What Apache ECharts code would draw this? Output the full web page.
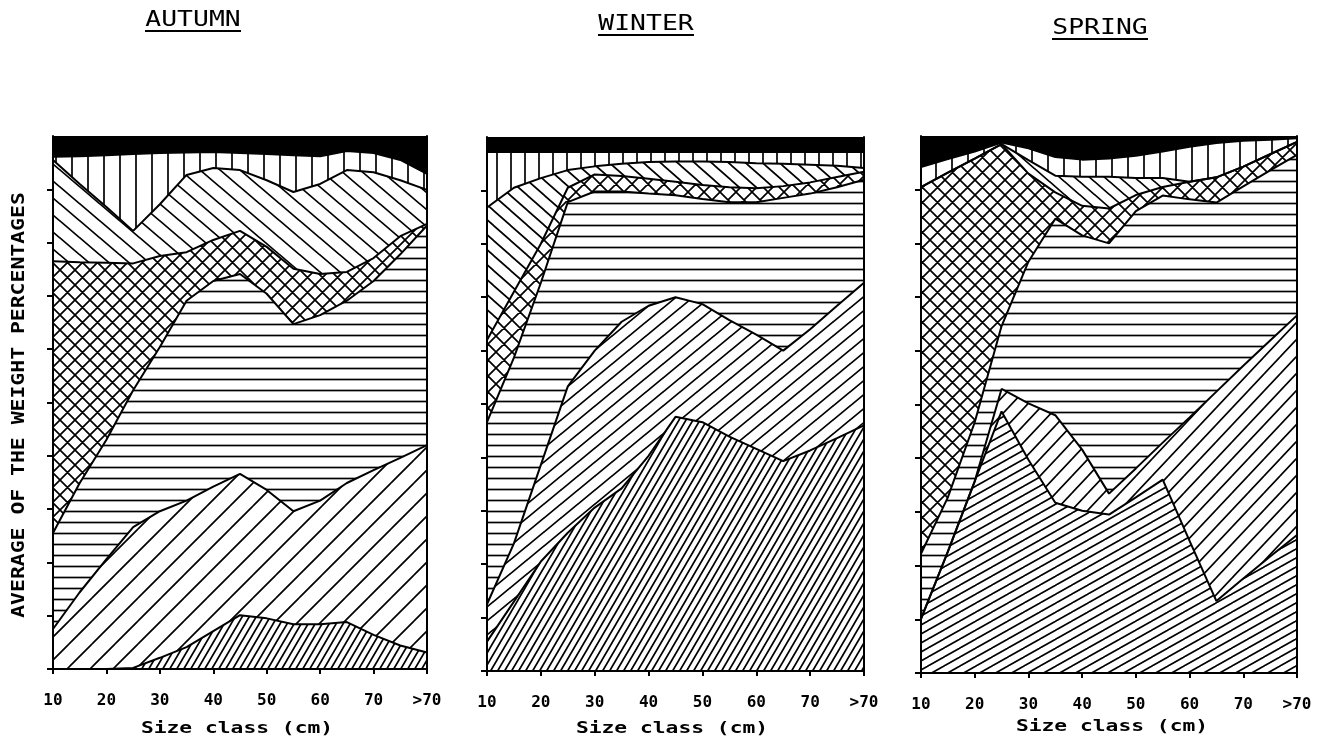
<!DOCTYPE html>
<html>
<head>
<meta charset="utf-8">
<script src="https://cdn.jsdelivr.net/npm/echarts@6/dist/echarts.min.js"></script>
<style>
html,body{margin:0;padding:0;background:#fff;}
#chart{width:1332px;height:742px;}
</style>
</head>
<body>
<div id="chart"></div>
<script>
// ---- DATA ----
// x positions (size class, cm); 80 stands for ">70"
const sizeClassCm = [10, 15, 20, 25, 30, 35, 40, 45, 50, 55, 60, 65, 70, 75, 80];
const xTickLabels = ['10', '20', '30', '40', '50', '60', '70', '>70'];
const seasonTitles = ['AUTUMN', 'WINTER', 'SPRING'];
const yAxisTitle = 'AVERAGE OF THE WEIGHT PERCENTAGES';
const xAxisTitle = 'Size class (cm)';

// cumulative weight percentage (from the bottom) up to the top of each prey category
// category 1 = bottom (dense hatch) ... category 7 = top (black)
const autumnCum1 = [0, 0, 0, 0.2, 2.1, 4.1, 7.1, 10.1, 9.5, 8.4, 8.4, 8.8, 6.4, 4.4, 3.1];
const autumnCum2 = [7.5, 14.4, 20.6, 26.6, 29.6, 31.6, 34.2, 36.6, 33.6, 29.6, 31.6, 34.9, 37.3, 39.6, 42];
const autumnCum3 = [25.5, 34.9, 43, 52.3, 60.4, 69.1, 72.8, 74.1, 70.4, 64.7, 66.4, 69.1, 72.8, 77.8, 83.2];
const autumnCum4 = [76.5, 76.3, 76.2, 76.1, 77.5, 78.2, 80.5, 82.2, 79.2, 75.1, 74.1, 74.5, 77.1, 81.2, 83.5];
const autumnCum5 = [95.5, 91, 86.7, 82.2, 87.2, 92.7, 94, 93.6, 91.7, 89.5, 91, 93.6, 93.2, 91.7, 89.9];
const autumnCum6 = [96.1, 96.2, 96.4, 96.6, 96.8, 96.9, 97, 96.8, 96.6, 96.4, 96.2, 97.2, 96.8, 95.5, 92.9];
const autumnCum7 = [100, 100, 100, 100, 100, 100, 100, 100, 100, 100, 100, 100, 100, 100, 100];

const winterCum1 = [5.5, 13, 20.5, 25.9, 30.6, 34.2, 40.3, 47.6, 46.6, 43.9, 41.6, 39.3, 41.3, 43.6, 46];
const winterCum2 = [12.5, 23.9, 38.6, 53.3, 60, 65.4, 68.4, 70, 68.7, 65.7, 63, 60, 64, 68.4, 72.7];
const winterCum3 = [46.6, 58.7, 72.7, 87.8, 89.8, 89.8, 89.4, 89.1, 88.4, 87.8, 87.8, 88.6, 89.4, 90.6, 92];
const winterCum4 = [62, 71, 80, 90.5, 93, 92.7, 92.2, 91.6, 91, 90.6, 90.4, 90.8, 91.5, 92.5, 93.5];
const winterCum5 = [86.8, 90.5, 92.3, 93.8, 94.5, 95, 95.3, 95.4, 95.4, 95.3, 95.1, 95, 94.8, 94.6, 94.2];
const winterCum6 = [97.2, 97.2, 97.2, 97.2, 97.2, 97.2, 97.2, 97.2, 97.2, 97.2, 97.2, 97.2, 97.2, 97.2, 97.2];
const winterCum7 = [100, 100, 100, 100, 100, 100, 100, 100, 100, 100, 100, 100, 100, 100, 100];

const springCum1 = [10.1, 22.6, 35.7, 48.7, 39.7, 31.7, 30.2, 29.5, 32.7, 36, 24.6, 13.4, 17.6, 21.7, 25.7];
const springCum2 = [10.1, 22.6, 35.7, 52.9, 50.2, 48, 41.6, 33.4, 38.1, 42.9, 47.6, 52.4, 57.2, 61.9, 66.6];
const springCum3 = [22.2, 32.7, 46.7, 64.6, 76.6, 84.6, 81.5, 80, 86, 88.9, 88.2, 87.6, 90.6, 93.6, 96.5];
const springCum4 = [90.5, 93.2, 95.8, 98.5, 93, 89.5, 87, 86.5, 89, 90.5, 91.5, 92.3, 94.3, 96.6, 98.9];
const springCum5 = [90.5, 93.2, 95.8, 98.5, 95.5, 92.6, 92.4, 92.4, 92.2, 92.2, 91.5, 92.3, 94.3, 96.6, 98.9];
const springCum6 = [94.2, 95.7, 97.1, 98.8, 97.7, 96.1, 95.6, 95.8, 96.3, 97.1, 98, 98.7, 99.1, 99.3, 99.6];
const springCum7 = [100, 100, 100, 100, 100, 100, 100, 100, 100, 100, 100, 100, 100, 100, 100];

// ---- hatch patterns ----
function tile(w, h, draw) {
  const c = document.createElement('canvas');
  c.width = w; c.height = h;
  const g = c.getContext('2d');
  g.fillStyle = '#fff'; g.fillRect(0, 0, w, h);
  g.strokeStyle = '#000'; g.lineWidth = 1.7; g.lineCap = 'square';
  draw(g, w, h);
  return { image: c, repeat: 'repeat' };
}
function slash(w, h) { // "/" lines
  return tile(w, h, (g) => {
    g.beginPath();
    for (let k = -1; k <= 1; k++) { g.moveTo(k * w, h); g.lineTo(k * w + w, 0); }
    g.stroke();
  });
}
function backslash(w, h) { // "\" lines
  return tile(w, h, (g) => {
    g.beginPath();
    for (let k = -1; k <= 1; k++) { g.moveTo(k * w, 0); g.lineTo(k * w + w, h); }
    g.stroke();
  });
}
function cross(s) {
  return tile(s, s, (g) => {
    g.beginPath();
    for (let k = -1; k <= 1; k++) {
      g.moveTo(k * s, s); g.lineTo(k * s + s, 0);
      g.moveTo(k * s, 0); g.lineTo(k * s + s, s);
    }
    g.stroke();
  });
}
function horiz(s) {
  return tile(8, s, (g, w, h) => { g.beginPath(); g.moveTo(-2, h / 2); g.lineTo(w + 2, h / 2); g.stroke(); });
}
function vert(s) {
  return tile(s, 8, (g, w, h) => { g.beginPath(); g.moveTo(w / 2, -2); g.lineTo(w / 2, h + 2); g.stroke(); });
}

const panels = [
  { cum: [autumnCum1, autumnCum2, autumnCum3, autumnCum4, autumnCum5, autumnCum6, autumnCum7],
    grid: { left: 53, top: 136, width: 374, height: 533 },
    fills: [slash(7, 12), slash(23, 23), horiz(11), cross(15), backslash(20, 17), vert(16), '#000'] },
  { cum: [winterCum1, winterCum2, winterCum3, winterCum4, winterCum5, winterCum6, winterCum7],
    grid: { left: 487, top: 137, width: 377, height: 534 },
    fills: [slash(7, 12), slash(17, 14), horiz(11), cross(16), backslash(17, 15), vert(14), '#000'] },
  { cum: [springCum1, springCum2, springCum3, springCum4, springCum5, springCum6, springCum7],
    grid: { left: 921, top: 136, width: 376, height: 537 },
    fills: [slash(16, 9), slash(16, 17), horiz(11), cross(15), backslash(15, 13), vert(16), '#000'] }
];

const grids = [], xAxes = [], yAxes = [], series = [];
panels.forEach((p, i) => {
  grids.push(Object.assign({ outerBoundsMode: 'none', containLabel: false }, p.grid));
  xAxes.push({
    gridIndex: i, type: 'value', min: 10, max: 80, interval: 10, z: 10,
    axisLine: { show: true, onZero: false, lineStyle: { color: '#000', width: 2 } },
    axisTick: { show: true, length: 5, lineStyle: { color: '#000', width: 2 } },
    axisLabel: { show: true, color: '#000', fontFamily: 'DejaVu Sans Mono', fontWeight: 'bold', fontSize: 16, margin: 24,
      formatter: (v) => xTickLabels[Math.round((v - 10) / 10)] },
    splitLine: { show: false }
  });
  yAxes.push({
    gridIndex: i, type: 'value', min: 0, max: 100, interval: 10, position: 'left', z: 10,
    axisLine: { show: true, onZero: false, lineStyle: { color: '#000', width: 2 } },
    axisTick: { show: true, length: 6, lineStyle: { color: '#000', width: 2 }, customValues: [0, 10, 20, 30, 40, 50, 60, 70, 80, 90] },
    axisLabel: { show: false }, splitLine: { show: false }
  });
  const yi = yAxes.length - 1;
  yAxes.push({
    gridIndex: i, type: 'value', min: 0, max: 100, position: 'right', z: 10,
    axisLine: { show: true, onZero: false, lineStyle: { color: '#000', width: 2 } },
    axisTick: { show: false }, axisLabel: { show: false }, splitLine: { show: false }
  });
  // areas: top-most cumulative first, so lower categories paint over it
  for (let k = 6; k >= 0; k--) {
    series.push({
      type: 'line', xAxisIndex: i, yAxisIndex: yi, silent: true, animation: false, z: 2,
      symbol: 'none', showSymbol: false,
      data: sizeClassCm.map((x, j) => [x, p.cum[k][j]]),
      lineStyle: { opacity: 0, width: 0 },
      areaStyle: { color: p.fills[k], opacity: 1, origin: 'start' }
    });
  }
  // boundary lines on top
  for (let k = 0; k < 6; k++) {
    series.push({
      type: 'line', xAxisIndex: i, yAxisIndex: yi, silent: true, animation: false, z: 4,
      symbol: 'none', showSymbol: false,
      data: sizeClassCm.map((x, j) => [x, p.cum[k][j]]),
      lineStyle: { color: '#000', width: 2 }
    });
  }
});

const monoTxt = (text, x, y, font, sx, rot) => ({
  type: 'text', x: x, y: y, scaleX: sx, rotation: rot || 0, silent: true, z: 20,
  style: { text: text, font: font, fill: '#000', textAlign: 'center', textVerticalAlign: 'middle' }
});
const uline = (x1, x2, y) => ({ type: 'line', silent: true, z: 20, shape: { x1: x1, y1: y, x2: x2, y2: y }, style: { stroke: '#000', lineWidth: 2 } });

const graphics = [
  monoTxt(seasonTitles[0], 193, 20, '22px "DejaVu Sans Mono"', 1.2),
  uline(145, 241, 31),
  monoTxt(seasonTitles[1], 646, 24, '22px "DejaVu Sans Mono"', 1.2),
  uline(598, 694, 35),
  monoTxt(seasonTitles[2], 1100, 28, '22px "DejaVu Sans Mono"', 1.2),
  uline(1052, 1148, 39),
  monoTxt(yAxisTitle, 19, 405, 'bold 18px "DejaVu Sans Mono"', 1.19, Math.PI / 2),
  monoTxt(xAxisTitle, 237, 729, 'bold 16px "DejaVu Sans Mono"', 1.33),
  monoTxt(xAxisTitle, 672, 729, 'bold 16px "DejaVu Sans Mono"', 1.33),
  monoTxt(xAxisTitle, 1112, 727, 'bold 16px "DejaVu Sans Mono"', 1.33)
];

const chart = echarts.init(document.getElementById('chart'), null, { renderer: 'canvas' });
chart.setOption({
  backgroundColor: '#fff',
  animation: false,
  grid: grids,
  xAxis: xAxes,
  yAxis: yAxes,
  series: series,
  graphic: graphics
});
</script>
</body>
</html>
